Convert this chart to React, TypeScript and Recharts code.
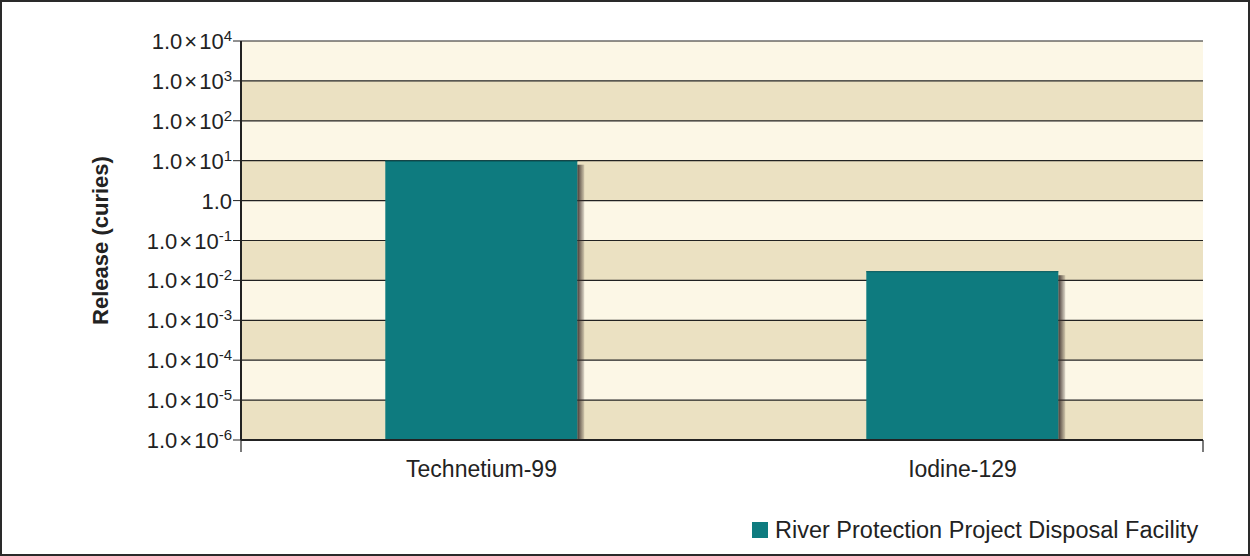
import React from 'react';
import {
  BarChart, Bar, XAxis, YAxis, CartesianGrid, Legend,
} from 'recharts';

const categories = ['Technetium-99', 'Iodine-129'];
const releaseCuries = [10, 0.017];
const yTicks = [1e-6, 1e-5, 1e-4, 1e-3, 1e-2, 1e-1, 1, 1e1, 1e2, 1e3, 1e4];
const seriesName = 'River Protection Project Disposal Facility';

const data = categories.map((name, i) => ({ name, release: releaseCuries[i] }));

const FONT = '"Liberation Sans", Arial, sans-serif';
const TEAL = '#0e7b7f';
const INK = '#222';

// "1.0×10^n" tick, with a real superscript
function LogTick(props: any) {
  const { x, y, payload } = props;
  const exp = Math.round(Math.log10(payload.value));
  return (
    <text x={x} y={y} dy={8} textAnchor="end" fontFamily={FONT} fontSize={22} fill={INK}>
      {exp === 0 ? '1.0' : (
        <>
          <tspan>1.0</tspan>
          <tspan dx={2}>×</tspan>
          <tspan dx={2}>10</tspan>
          <tspan dy={-8} fontSize={15}>{exp}</tspan>
        </>
      )}
    </text>
  );
}

function ShadowBar(props: any) {
  const { x, y, width, height, fill } = props;
  if (!height || height <= 0) return null;
  return (
    <g>
      <rect x={x + width} y={y + 4} width={7} height={height - 4} fill="url(#barShadow)" />
      <rect x={x} y={y} width={width} height={height} fill={fill} />
      <line x1={x} x2={x + width} y1={y + 0.5} y2={y + 0.5} stroke="#0a5a5d" strokeWidth={1} />
    </g>
  );
}

function LegendContent(props: any) {
  const { payload } = props;
  return (
    <div>
      {(payload || []).map((entry: any) => (
        <div key={entry.value} style={{ display: 'flex', alignItems: 'center', fontFamily: FONT, fontSize: 23.5, lineHeight: '22px', color: INK, whiteSpace: 'nowrap' }}>
          <span style={{ width: 16, height: 16, background: entry.color, marginRight: 7, display: 'inline-block' }} />
          <span>{entry.value}</span>
        </div>
      ))}
    </div>
  );
}

export default function App() {
  return (
    <div
      style={{
        position: 'absolute', top: 0, left: 0, width: 1250, height: 556,
        boxSizing: 'border-box', border: '2px solid #2a2a2a', background: '#fff',
      }}
    >
      <BarChart
        width={1246}
        height={552}
        data={data}
        margin={{ top: 39, right: 45, left: 0, bottom: 0 }}
        barCategoryGap="30%"
      >
        <defs>
          <linearGradient id="barShadow" x1="0" y1="0" x2="1" y2="0">
            <stop offset="0%" stopColor="#3b2f2c" stopOpacity={0.95} />
            <stop offset="100%" stopColor="#3b2f2c" stopOpacity={0.15} />
          </linearGradient>
        </defs>
        <CartesianGrid
          vertical={false}
          stroke={INK}
          strokeWidth={1.2}
          horizontalFill={['#fcf7e6', '#ebe1c2']}
          fillOpacity={1}
        />
        {/* edge axis: baseline plus tick marks between the categories */}
        <XAxis
          xAxisId={0}
          type="number"
          domain={[0, 2]}
          ticks={[0, 1, 2]}
          interval={0}
          height={1}
          axisLine={{ stroke: INK, strokeWidth: 2 }}
          tickFormatter={() => ''}
          tickSize={12}
          tickLine={{ stroke: INK, strokeWidth: 1.2 }}
        />
        <XAxis
          xAxisId="cat"
          dataKey="name"
          height={113}
          axisLine={false}
          tickLine={false}
          tickSize={0}
          tickMargin={20}
          tick={{ fontFamily: FONT, fontSize: 23, fill: INK }}
        />
        <YAxis
          scale="log"
          type="number"
          domain={[1e-6, 1e4]}
          ticks={yTicks}
          interval={0}
          allowDataOverflow
          width={239}
          tickSize={8}
          tickMargin={1}
          axisLine={{ stroke: INK, strokeWidth: 2 }}
          tickLine={{ stroke: INK, strokeWidth: 1 }}
          tick={<LogTick />}
          label={{
            value: 'Release (curies)',
            angle: -90,
            position: 'insideLeft',
            offset: 98,
            style: { textAnchor: 'middle', fontFamily: FONT, fontSize: 22, fontWeight: 'bold', fill: INK },
          }}
        />
        <YAxis
          yAxisId="frame"
          orientation="right"
          type="number"
          domain={[0, 1]}
          width={0}
          tick={false}
          tickLine={false}
          axisLine={{ stroke: INK, strokeWidth: 2 }}
        />
        <Legend
          layout="vertical"
          align="center"
          verticalAlign="middle"
          content={<LegendContent />}
          wrapperStyle={{ left: 750, top: 517, width: 'auto' }}
        />
        <Bar
          xAxisId="cat"
          dataKey="release"
          name={seriesName}
          fill={TEAL}
          shape={<ShadowBar />}
          isAnimationActive={false}
        />
      </BarChart>
    </div>
  );
}
